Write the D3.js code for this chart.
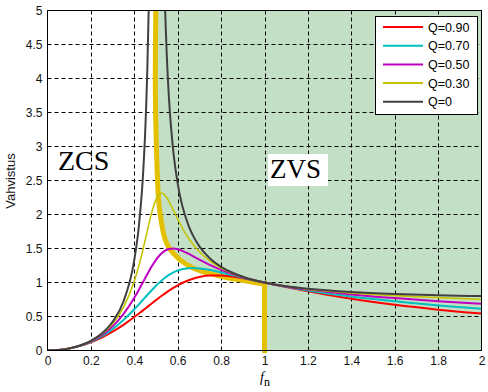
<!DOCTYPE html>
<html>
<head>
<meta charset="utf-8">
<script src="https://cdn.jsdelivr.net/npm/d3@7"></script>
<style>
  body { margin: 0; background: #fff; }
  svg { display: block; font-family: "Liberation Sans", Arial, sans-serif; }
</style>
</head>
<body>
<svg id="chart" width="488" height="392"></svg>
<script>
// Normalised frequency points shared by the loaded curves.
const fn = [0, 0.05, 0.1, 0.15, 0.2, 0.25, 0.3, 0.35, 0.4, 0.42, 0.44, 0.45, 0.48, 0.5, 0.51, 0.52,
  0.53, 0.54, 0.55, 0.56, 0.58, 0.6, 0.65, 0.67, 0.7, 0.75, 0.8, 0.85, 0.9, 0.95, 1, 1.1, 1.2, 1.4,
  1.6, 1.8, 2];

// Gain for each Q.
const gainQ090 = [0, 0.0075, 0.0301, 0.0680, 0.1216, 0.1911, 0.2766, 0.3775, 0.4918, 0.5404, 0.5901,
  0.6152, 0.6909, 0.7407, 0.7653, 0.7894, 0.8131, 0.8362, 0.8587, 0.8804, 0.9215, 0.9589, 1.0338,
  1.0558, 1.0806, 1.1014, 1.1015, 1.0868, 1.0625, 1.0326, 1, 0.9331, 0.8694, 0.7594, 0.6715, 0.6010,
  0.5435];
const gainQ070 = [0, 0.0075, 0.0305, 0.0703, 0.1288, 0.2090, 0.3142, 0.4469, 0.6060, 0.6752, 0.7460,
  0.7816, 0.8865, 0.9524, 0.9834, 1.0129, 1.0406, 1.0663, 1.0901, 1.1116, 1.1480, 1.1757, 1.2099,
  1.2122, 1.2069, 1.1823, 1.1475, 1.1094, 1.0712, 1.0345, 1, 0.9378, 0.8839, 0.7947, 0.7229, 0.6633,
  0.6126];
const gainQ050 = [0, 0.0076, 0.0309, 0.0721, 0.1351, 0.2264, 0.3554, 0.5347, 0.7750, 0.8871, 1.0047,
  1.0642, 1.2351, 1.3333, 1.3751, 1.4110, 1.4408, 1.4642, 1.4815, 1.4928, 1.4998, 1.4900, 1.4232,
  1.3892, 1.3373, 1.2561, 1.1861, 1.1273, 1.0778, 1.0359, 1, 0.9415, 0.8953, 0.8246, 0.7703, 0.7253,
  0.6860];
const gainQ030 = [0, 0.0076, 0.0311, 0.0734, 0.1399, 0.2407, 0.3938, 0.6335, 1.0209, 1.2351, 1.4855,
  1.6212, 2.0235, 2.2222, 2.2815, 2.3107, 2.3112, 2.2877, 2.2456, 2.1909, 2.0625, 1.9303, 1.6498,
  1.5619, 1.4521, 1.3138, 1.2141, 1.1397, 1.0823, 1.0368, 1, 0.9439, 0.9031, 0.8465, 0.8076, 0.7777,
  0.7527];

// Q=0 has two branches either side of the pole.
const q0LeftFn = [0, 0.05, 0.1, 0.15, 0.2, 0.25, 0.3, 0.35, 0.4, 0.42, 0.44, 0.45, 0.455, 0.46, 0.4665];
const q0LeftGain = [0, 0.0076, 0.0313, 0.0742, 0.1429, 0.25, 0.4219, 0.7206, 1.3333, 1.7976, 2.5745,
  3.197, 3.613, 4.133, 5.04];
const q0RightFn = [0.542, 0.545, 0.55, 0.56, 0.58, 0.6, 0.65, 0.67, 0.7, 0.75, 0.8, 0.85, 0.9, 0.95, 1,
  1.1, 1.2, 1.4, 1.6, 1.8, 2];
const q0RightGain = [5.03, 4.737, 4.321, 3.698, 2.920, 2.455, 1.837, 1.693, 1.531, 1.35, 1.231, 1.147,
  1.085, 1.037, 1, 0.945, 0.908, 0.860, 0.831, 0.813, 0.8];

// ZCS / ZVS boundary (thick line), last point is the drop at fn = 1.
const boundaryFn = [0.499, 0.497, 0.501, 0.512, 0.523, 0.539, 0.558, 0.613, 0.673, 0.751, 0.829, 0.903,
  0.982, 1, 1];
const boundaryGain = [5, 3.8, 3.1, 2.21, 1.92, 1.67, 1.52, 1.33, 1.21, 1.13, 1.07, 1.03, 0.985, 0.98, 0];

const xTicks = [0, 0.2, 0.4, 0.6, 0.8, 1, 1.2, 1.4, 1.6, 1.8, 2];
const yTicks = [0, 0.5, 1, 1.5, 2, 2.5, 3, 3.5, 4, 4.5, 5];

const seriesNames = ['Q=0.90', 'Q=0.70', 'Q=0.50', 'Q=0.30', 'Q=0'];
const seriesColors = ['#ff0000', '#00bfbf', '#bf00bf', '#c4c400', '#404040'];

const svg = d3.select('#chart');
const x = d3.scaleLinear().domain([0, 2]).range([47.5, 481.5]);
const y = d3.scaleLinear().domain([0, 5]).range([350.5, 10.5]);

svg.append('defs').append('clipPath').attr('id', 'plot')
  .append('rect')
  .attr('x', x(0)).attr('y', y(5))
  .attr('width', x(2) - x(0)).attr('height', y(0) - y(5));

const pts = (xs, ys) => xs.map((f, i) => [f, ys[i]]);
const linear = d3.line().x(d => x(d[0])).y(d => y(d[1]));
const smooth = d3.line().x(d => x(d[0])).y(d => y(d[1])).curve(d3.curveMonotoneX);

// ZVS region (green).
const zvs = pts(boundaryFn, boundaryGain).concat([[2, 0], [2, 5]]);
svg.append('path')
  .datum(zvs)
  .attr('fill', '#c3dfc5')
  .attr('d', linear);

// Dashed grid.
const grid = svg.append('g')
  .attr('stroke', '#000')
  .attr('stroke-width', 1)
  .attr('stroke-dasharray', '4,3');
grid.selectAll('.gx')
  .data(xTicks.slice(1, -1))
  .join('line')
  .attr('x1', d => Math.round(x(d)) + 0.5).attr('x2', d => Math.round(x(d)) + 0.5)
  .attr('y1', y(0)).attr('y2', y(5));
grid.selectAll('.gy')
  .data(yTicks.slice(1, -1))
  .join('line')
  .attr('x1', x(0)).attr('x2', x(2))
  .attr('y1', d => y(d)).attr('y2', d => y(d));

// Boundary between ZCS and ZVS.
const bPts = pts(boundaryFn, boundaryGain);
svg.append('path')
  .datum(bPts.slice(0, -1))
  .attr('clip-path', 'url(#plot)')
  .attr('fill', 'none')
  .attr('stroke', '#e3c000')
  .attr('stroke-width', 5)
  .attr('stroke-linecap', 'square')
  .attr('stroke-linejoin', 'round')
  .attr('d', d3.line().x(d => x(d[0])).y(d => y(d[1])).curve(d3.curveCatmullRom.alpha(0.5)));
svg.append('path')
  .datum(bPts.slice(-2))
  .attr('fill', 'none')
  .attr('stroke', '#e3c000')
  .attr('stroke-width', 5)
  .attr('stroke-linecap', 'square')
  .attr('d', linear);

// Gain curves.
const curves = svg.append('g').attr('clip-path', 'url(#plot)').attr('fill', 'none');
[gainQ090, gainQ070, gainQ050, gainQ030].forEach((g, i) => {
  curves.append('path')
    .datum(pts(fn, g))
    .attr('stroke', seriesColors[i])
    .attr('stroke-width', i === 3 ? 1.6 : 2)
    .attr('d', smooth);
});
[pts(q0LeftFn, q0LeftGain), pts(q0RightFn, q0RightGain)].forEach(p => {
  curves.append('path')
    .datum(p)
    .attr('stroke', seriesColors[4])
    .attr('stroke-width', 2)
    .attr('d', smooth);
});

// Axes.
const xAxis = svg.append('g')
  .attr('transform', `translate(0,${y(0)})`)
  .call(d3.axisBottom(x).tickValues(xTicks).tickFormat(d => d).tickSize(0).tickPadding(6));
const yAxis = svg.append('g')
  .attr('transform', `translate(${x(0)},0)`)
  .call(d3.axisLeft(y).tickValues(yTicks).tickFormat(d => d).tickSize(0).tickPadding(5));
[xAxis, yAxis].forEach(a => {
  a.attr('font-family', '"Liberation Sans", Arial, sans-serif').attr('font-size', 12);
  a.select('.domain').remove();
  a.selectAll('text').attr('fill', '#111');
});

// Frame.
svg.append('rect')
  .attr('x', x(0)).attr('y', y(5))
  .attr('width', x(2) - x(0)).attr('height', y(0) - y(5))
  .attr('fill', 'none').attr('stroke', '#000');

// Region labels.
svg.append('text')
  .attr('x', 58).attr('y', 170)
  .attr('font-family', '"Liberation Serif", "Times New Roman", serif')
  .attr('font-size', 28)
  .text('ZCS');
svg.append('rect')
  .attr('x', 268).attr('y', 154).attr('width', 60).attr('height', 32)
  .attr('fill', '#fff');
svg.append('text')
  .attr('x', 270).attr('y', 178)
  .attr('font-family', '"Liberation Serif", "Times New Roman", serif')
  .attr('font-size', 27)
  .text('ZVS');

// Axis titles.
svg.append('text')
  .attr('transform', 'translate(15,181) rotate(-90)')
  .attr('text-anchor', 'middle')
  .attr('font-size', 13)
  .attr('fill', '#111')
  .text('Vahvistus');
const fLabel = svg.append('text')
  .attr('x', 265).attr('y', 382)
  .attr('text-anchor', 'middle')
  .attr('font-family', '"Liberation Serif", "Times New Roman", serif')
  .attr('font-size', 14);
fLabel.append('tspan').attr('font-style', 'italic').text('f');
fLabel.append('tspan').attr('dy', 4).attr('font-size', 12).text('n');

// Legend.
const legend = svg.append('g');
legend.append('rect')
  .attr('x', 375.5).attr('y', 16.5).attr('width', 102).attr('height', 98)
  .attr('fill', '#fff').attr('stroke', '#000');
seriesNames.forEach((name, i) => {
  const ly = 27 + i * 18.7;
  legend.append('line')
    .attr('x1', 383).attr('x2', 423).attr('y1', ly).attr('y2', ly)
    .attr('stroke', seriesColors[i]).attr('stroke-width', 2);
  legend.append('text')
    .attr('x', 428).attr('y', ly).attr('dy', '0.36em')
    .attr('font-size', 12.5)
    .text(name);
});
</script>
</body>
</html>
